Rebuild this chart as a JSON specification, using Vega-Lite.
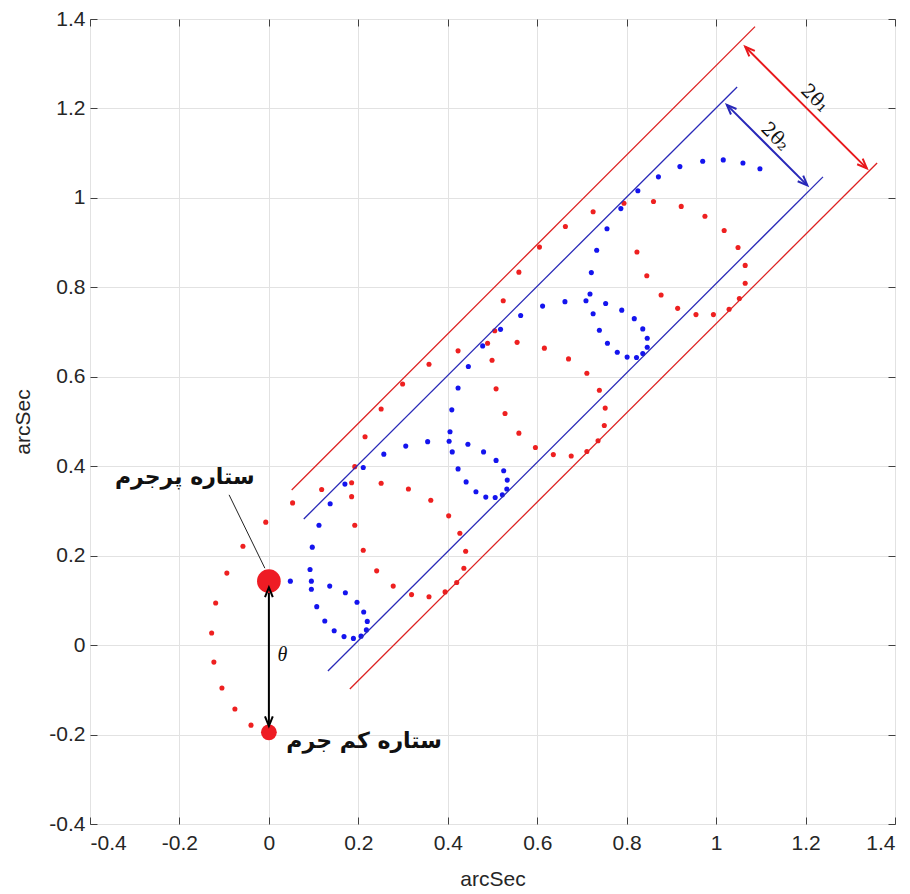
{
  "$schema": "https://vega.github.io/schema/vega-lite/v6.json",
  "autosize": {"type": "none"},
  "padding": {"left": 90, "top": 19, "right": 15, "bottom": 70},
  "width": 805,
  "height": 805,
  "background": "white",
  "config": {
    "view": {"stroke": "#404040", "strokeWidth": 1},
    "axis": {
      "labelFont": "Liberation Sans",
      "labelFontSize": 21,
      "labelColor": "#262626",
      "titleFont": "Liberation Sans",
      "titleFontSize": 21,
      "titleFontWeight": "normal",
      "titleColor": "#262626",
      "gridColor": "#e2e2e2",
      "gridWidth": 1,
      "domain": false,
      "tickColor": "#404040",
      "tickSize": -7,
      "labelPadding": 15
    }
  },
  "datasets": {
    "red": [
      {"x": -0.040, "y": -0.179}, {"x": -0.076, "y": -0.143}, {"x": -0.105, "y": -0.096}, {"x": -0.123, "y": -0.038},
      {"x": -0.128, "y": 0.027}, {"x": -0.119, "y": 0.094}, {"x": -0.094, "y": 0.161}, {"x": -0.058, "y": 0.221},
      {"x": -0.007, "y": 0.275}, {"x": 0.053, "y": 0.318}, {"x": 0.118, "y": 0.348}, {"x": 0.185, "y": 0.363},
      {"x": 0.251, "y": 0.362}, {"x": 0.312, "y": 0.349}, {"x": 0.362, "y": 0.324}, {"x": 0.402, "y": 0.289},
      {"x": 0.427, "y": 0.250}, {"x": 0.440, "y": 0.210}, {"x": 0.436, "y": 0.172}, {"x": 0.420, "y": 0.140},
      {"x": 0.394, "y": 0.119}, {"x": 0.358, "y": 0.108}, {"x": 0.319, "y": 0.113}, {"x": 0.278, "y": 0.132},
      {"x": 0.241, "y": 0.166}, {"x": 0.211, "y": 0.212}, {"x": 0.192, "y": 0.268}, {"x": 0.185, "y": 0.332},
      {"x": 0.192, "y": 0.399}, {"x": 0.215, "y": 0.466}, {"x": 0.251, "y": 0.528}, {"x": 0.299, "y": 0.584},
      {"x": 0.358, "y": 0.628}, {"x": 0.423, "y": 0.658}, {"x": 0.489, "y": 0.675}, {"x": 0.555, "y": 0.677},
      {"x": 0.616, "y": 0.664}, {"x": 0.670, "y": 0.640}, {"x": 0.711, "y": 0.608}, {"x": 0.739, "y": 0.570},
      {"x": 0.752, "y": 0.530}, {"x": 0.750, "y": 0.491}, {"x": 0.736, "y": 0.457}, {"x": 0.711, "y": 0.433},
      {"x": 0.676, "y": 0.423}, {"x": 0.636, "y": 0.426}, {"x": 0.596, "y": 0.442}, {"x": 0.559, "y": 0.474},
      {"x": 0.528, "y": 0.518}, {"x": 0.508, "y": 0.573}, {"x": 0.499, "y": 0.637}, {"x": 0.505, "y": 0.703},
      {"x": 0.524, "y": 0.770}, {"x": 0.559, "y": 0.834}, {"x": 0.605, "y": 0.890}, {"x": 0.663, "y": 0.936},
      {"x": 0.725, "y": 0.969}, {"x": 0.794, "y": 0.988}, {"x": 0.860, "y": 0.992}, {"x": 0.922, "y": 0.981},
      {"x": 0.975, "y": 0.959}, {"x": 1.018, "y": 0.927}, {"x": 1.049, "y": 0.889}, {"x": 1.065, "y": 0.849},
      {"x": 1.065, "y": 0.809}, {"x": 1.052, "y": 0.775}, {"x": 1.029, "y": 0.751}, {"x": 0.994, "y": 0.739},
      {"x": 0.955, "y": 0.739}, {"x": 0.914, "y": 0.753}, {"x": 0.877, "y": 0.783}, {"x": 0.845, "y": 0.826},
      {"x": 0.823, "y": 0.879}
    ],
    "blue": [
      {"x": 0.048, "y": 0.143}, {"x": 0.095, "y": 0.143}, {"x": 0.095, "y": 0.125}, {"x": 0.107, "y": 0.086},
      {"x": 0.125, "y": 0.054}, {"x": 0.146, "y": 0.032}, {"x": 0.168, "y": 0.019}, {"x": 0.189, "y": 0.015},
      {"x": 0.206, "y": 0.020}, {"x": 0.218, "y": 0.034}, {"x": 0.220, "y": 0.053}, {"x": 0.212, "y": 0.074},
      {"x": 0.197, "y": 0.096}, {"x": 0.171, "y": 0.117}, {"x": 0.136, "y": 0.132}, {"x": 0.092, "y": 0.169},
      {"x": 0.097, "y": 0.219}, {"x": 0.112, "y": 0.268}, {"x": 0.137, "y": 0.316}, {"x": 0.170, "y": 0.360},
      {"x": 0.211, "y": 0.397}, {"x": 0.257, "y": 0.427}, {"x": 0.306, "y": 0.445}, {"x": 0.355, "y": 0.455},
      {"x": 0.403, "y": 0.456}, {"x": 0.405, "y": 0.477}, {"x": 0.410, "y": 0.432}, {"x": 0.423, "y": 0.394},
      {"x": 0.441, "y": 0.365}, {"x": 0.463, "y": 0.343}, {"x": 0.485, "y": 0.331}, {"x": 0.506, "y": 0.330},
      {"x": 0.522, "y": 0.336}, {"x": 0.532, "y": 0.349}, {"x": 0.533, "y": 0.369}, {"x": 0.525, "y": 0.390},
      {"x": 0.508, "y": 0.413}, {"x": 0.480, "y": 0.432}, {"x": 0.445, "y": 0.449}, {"x": 0.409, "y": 0.526},
      {"x": 0.423, "y": 0.575}, {"x": 0.446, "y": 0.623}, {"x": 0.478, "y": 0.669}, {"x": 0.518, "y": 0.706},
      {"x": 0.563, "y": 0.737}, {"x": 0.612, "y": 0.758}, {"x": 0.662, "y": 0.768}, {"x": 0.709, "y": 0.770},
      {"x": 0.718, "y": 0.785}, {"x": 0.725, "y": 0.741}, {"x": 0.739, "y": 0.704}, {"x": 0.757, "y": 0.675},
      {"x": 0.779, "y": 0.655}, {"x": 0.801, "y": 0.644}, {"x": 0.822, "y": 0.643}, {"x": 0.836, "y": 0.652},
      {"x": 0.846, "y": 0.666}, {"x": 0.846, "y": 0.686}, {"x": 0.836, "y": 0.707}, {"x": 0.817, "y": 0.730},
      {"x": 0.789, "y": 0.749}, {"x": 0.753, "y": 0.764}, {"x": 0.721, "y": 0.833}, {"x": 0.733, "y": 0.883},
      {"x": 0.756, "y": 0.931}, {"x": 0.787, "y": 0.976}, {"x": 0.825, "y": 1.016}, {"x": 0.871, "y": 1.047},
      {"x": 0.919, "y": 1.070}, {"x": 0.970, "y": 1.082}, {"x": 1.016, "y": 1.085}, {"x": 1.060, "y": 1.078},
      {"x": 1.098, "y": 1.065}
    ],
    "stars": [
      {"star": "massive", "x": 0, "y": 0.143},
      {"star": "light", "x": 0, "y": -0.195}
    ],
    "bands": [
      {"band": "outer", "x": 0.051, "y": 0.347, "x2": 1.087, "y2": 1.383},
      {"band": "outer", "x": 0.181, "y": -0.098, "x2": 1.360, "y2": 1.078},
      {"band": "inner", "x": 0.078, "y": 0.282, "x2": 1.047, "y2": 1.248},
      {"band": "inner", "x": 0.132, "y": -0.058, "x2": 1.239, "y2": 1.047}
    ],
    "shafts": [
      {"arrow": "outer", "x": 1.065, "y": 1.338, "x2": 1.337, "y2": 1.066},
      {"arrow": "inner", "x": 1.024, "y": 1.208, "x2": 1.204, "y2": 1.028},
      {"arrow": "theta", "x": 0, "y": 0.129, "x2": 0, "y2": -0.181},
      {"arrow": "pointer", "x": -0.089, "y": 0.336, "x2": -0.009, "y2": 0.172}
    ],
    "heads": [
      {"arrow": "outer", "end": "start", "x": 1.065, "y": 1.338},
      {"arrow": "outer", "end": "end", "x": 1.337, "y": 1.066},
      {"arrow": "inner", "end": "start", "x": 1.024, "y": 1.208},
      {"arrow": "inner", "end": "end", "x": 1.204, "y": 1.028},
      {"arrow": "theta", "end": "start", "x": 0, "y": 0.129},
      {"arrow": "theta", "end": "end", "x": 0, "y": -0.181}
    ],
    "labels": [
      {"kind": "width", "text": "2θ₁", "x": 1.221, "y": 1.223},
      {"kind": "width", "text": "2θ₂", "x": 1.132, "y": 1.137},
      {"kind": "theta", "text": "θ", "x": 0.030, "y": -0.022},
      {"kind": "fa", "text": "ستاره پرجرم", "x": -0.188, "y": 0.376},
      {"kind": "fa", "text": "ستاره کم جرم", "x": 0.213, "y": -0.215}
    ]
  },
  "encoding": {
    "x": {"field": "x", "type": "quantitative", "scale": {"domain": [-0.4, 1.4], "nice": false, "zero": false}, "axis": null},
    "y": {"field": "y", "type": "quantitative", "scale": {"domain": [-0.4, 1.4], "nice": false, "zero": false}, "axis": null}
  },
  "resolve": {"axis": {"x": "independent", "y": "independent"}},
  "layer": [
    {
      "data": {"name": "red"},
      "mark": {"type": "point", "filled": true, "size": 26, "color": "#ee2020", "opacity": 1},
      "encoding": {
        "x": {"field": "x", "type": "quantitative", "scale": {"domain": [-0.4, 1.4], "nice": false, "zero": false},
              "axis": {"orient": "bottom", "title": "arcSec", "values": [-0.4, -0.2, 0, 0.2, 0.4, 0.6, 0.8, 1, 1.2, 1.4], "labelExpr": "toString(datum.value)", "grid": true, "titlePadding": 15}},
        "y": {"field": "y", "type": "quantitative", "scale": {"domain": [-0.4, 1.4], "nice": false, "zero": false},
              "axis": {"orient": "left", "title": "arcSec", "values": [-0.4, -0.2, 0, 0.2, 0.4, 0.6, 0.8, 1, 1.2, 1.4], "labelExpr": "toString(datum.value)", "grid": true, "labelPadding": 12, "titlePadding": 15}}
      }
    },
    {
      "data": {"name": "blue"},
      "mark": {"type": "point", "filled": true, "size": 26, "color": "#1414ee", "opacity": 1},
      "encoding": {
        "x": {"field": "x", "type": "quantitative", "scale": {"domain": [-0.4, 1.4], "nice": false, "zero": false},
              "axis": {"orient": "top", "title": null, "labels": false, "grid": false, "values": [-0.4, -0.2, 0, 0.2, 0.4, 0.6, 0.8, 1, 1.2, 1.4]}},
        "y": {"field": "y", "type": "quantitative", "scale": {"domain": [-0.4, 1.4], "nice": false, "zero": false},
              "axis": {"orient": "right", "title": null, "labels": false, "grid": false, "values": [-0.4, -0.2, 0, 0.2, 0.4, 0.6, 0.8, 1, 1.2, 1.4]}}
      }
    },
    {
      "data": {"name": "bands"},
      "transform": [{"filter": "datum.band == 'outer'"}],
      "mark": {"type": "rule", "color": "#dd2222", "strokeWidth": 1.3},
      "encoding": {"x2": {"field": "x2"}, "y2": {"field": "y2"}}
    },
    {
      "data": {"name": "bands"},
      "transform": [{"filter": "datum.band == 'inner'"}],
      "mark": {"type": "rule", "color": "#2a2ab8", "strokeWidth": 1.3},
      "encoding": {"x2": {"field": "x2"}, "y2": {"field": "y2"}}
    },
    {
      "data": {"name": "shafts"},
      "transform": [{"filter": "datum.arrow == 'outer'"}],
      "mark": {"type": "rule", "color": "#e8181c", "strokeWidth": 2},
      "encoding": {"x2": {"field": "x2"}, "y2": {"field": "y2"}}
    },
    {
      "data": {"name": "shafts"},
      "transform": [{"filter": "datum.arrow == 'inner'"}],
      "mark": {"type": "rule", "color": "#2828b8", "strokeWidth": 2},
      "encoding": {"x2": {"field": "x2"}, "y2": {"field": "y2"}}
    },
    {
      "data": {"name": "shafts"},
      "transform": [{"filter": "datum.arrow == 'theta'"}],
      "mark": {"type": "rule", "color": "#000000", "strokeWidth": 2},
      "encoding": {"x2": {"field": "x2"}, "y2": {"field": "y2"}}
    },
    {
      "data": {"name": "shafts"},
      "transform": [{"filter": "datum.arrow == 'pointer'"}],
      "mark": {"type": "rule", "color": "#222222", "strokeWidth": 1},
      "encoding": {"x2": {"field": "x2"}, "y2": {"field": "y2"}}
    },
    {
      "data": {"name": "stars"},
      "transform": [{"filter": "datum.star == 'massive'"}],
      "mark": {"type": "point", "filled": true, "size": 560, "color": "#ee1c24", "opacity": 1}
    },
    {
      "data": {"name": "stars"},
      "transform": [{"filter": "datum.star == 'light'"}],
      "mark": {"type": "point", "filled": true, "size": 250, "color": "#ee1c24", "opacity": 1}
    },
    {
      "data": {"name": "heads"},
      "transform": [{"filter": "datum.arrow == 'outer' && datum.end == 'start'"}],
      "mark": {"type": "point", "shape": "M-0.4,1L0,0L0.4,1", "filled": false, "size": 380, "angle": 315, "color": "#e8181c", "strokeWidth": 2, "opacity": 1}
    },
    {
      "data": {"name": "heads"},
      "transform": [{"filter": "datum.arrow == 'outer' && datum.end == 'end'"}],
      "mark": {"type": "point", "shape": "M-0.4,1L0,0L0.4,1", "filled": false, "size": 380, "angle": 135, "color": "#e8181c", "strokeWidth": 2, "opacity": 1}
    },
    {
      "data": {"name": "heads"},
      "transform": [{"filter": "datum.arrow == 'inner' && datum.end == 'start'"}],
      "mark": {"type": "point", "shape": "M-0.4,1L0,0L0.4,1", "filled": false, "size": 380, "angle": 315, "color": "#2828b8", "strokeWidth": 2, "opacity": 1}
    },
    {
      "data": {"name": "heads"},
      "transform": [{"filter": "datum.arrow == 'inner' && datum.end == 'end'"}],
      "mark": {"type": "point", "shape": "M-0.4,1L0,0L0.4,1", "filled": false, "size": 380, "angle": 135, "color": "#2828b8", "strokeWidth": 2, "opacity": 1}
    },
    {
      "data": {"name": "heads"},
      "transform": [{"filter": "datum.arrow == 'theta' && datum.end == 'start'"}],
      "mark": {"type": "point", "shape": "M-0.4,1L0,0L0.4,1", "filled": false, "size": 380, "angle": 0, "color": "#000000", "strokeWidth": 2, "opacity": 1}
    },
    {
      "data": {"name": "heads"},
      "transform": [{"filter": "datum.arrow == 'theta' && datum.end == 'end'"}],
      "mark": {"type": "point", "shape": "M-0.4,1L0,0L0.4,1", "filled": false, "size": 380, "angle": 180, "color": "#000000", "strokeWidth": 2, "opacity": 1}
    },
    {
      "data": {"name": "labels"},
      "transform": [{"filter": "datum.kind == 'width'"}],
      "mark": {"type": "text", "font": "DejaVu Serif", "fontSize": 19, "angle": 45, "color": "#111111", "align": "center", "baseline": "middle"},
      "encoding": {"text": {"field": "text"}}
    },
    {
      "data": {"name": "labels"},
      "transform": [{"filter": "datum.kind == 'theta'"}],
      "mark": {"type": "text", "font": "Liberation Serif", "fontSize": 20, "fontStyle": "italic", "color": "#111111", "align": "center", "baseline": "middle"},
      "encoding": {"text": {"field": "text"}}
    },
    {
      "data": {"name": "labels"},
      "transform": [{"filter": "datum.kind == 'fa'"}],
      "mark": {"type": "text", "font": "DejaVu Sans", "fontSize": 22, "fontWeight": "bold", "color": "#111111", "align": "center", "baseline": "middle"},
      "encoding": {"text": {"field": "text"}}
    }
  ]
}
